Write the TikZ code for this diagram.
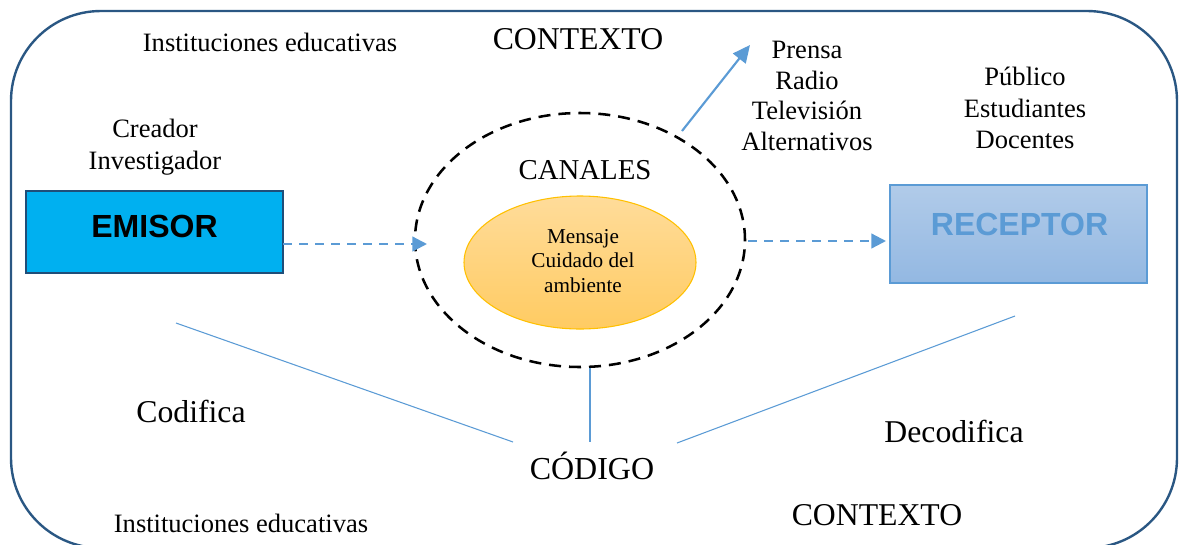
\documentclass[tikz,border=0pt]{standalone}
\usepackage{fontspec}
\setmainfont{Liberation Serif}
\newfontfamily\arialfont{Liberation Sans}
\usetikzlibrary{arrows.meta,shapes.geometric}
\definecolor{frameblue}{HTML}{2A5783}
\definecolor{lineblue}{HTML}{5B9BD5}
\definecolor{emisorfill}{HTML}{00B0F0}
\definecolor{emisorborder}{HTML}{1F4E79}
\definecolor{rectop}{HTML}{B1CBE9}
\definecolor{recbot}{HTML}{93B8E2}
\definecolor{msgtop}{HTML}{FFDC9A}
\definecolor{msgbot}{HTML}{FFCB62}
\definecolor{msgborder}{HTML}{FFC000}
\tikzset{
  txt/.style={inner sep=0pt, align=center, font=\fontsize{19.9}{23.5}\selectfont},
  bigtxt/.style={inner sep=0pt, align=center, font=\fontsize{23.8}{28}\selectfont},
  flowarrow/.style={draw=lineblue, line width=1.7pt, dash pattern=on 7pt off 5pt, -{Triangle[length=11pt,width=11pt]}},
  thinline/.style={draw=lineblue, line width=0.8pt},
}
\begin{document}
\begin{tikzpicture}[x=0.75pt,y=-0.75pt]
\useasboundingbox (0,0) rectangle (1183,544);
% outer frame
\draw[frameblue, line width=1.8pt, rounded corners=67.5pt] (11,11) rectangle (1177,548);

% texts
\node[txt] (inst1) at (270,42) {Instituciones educativas};
\node[bigtxt] (ctx1) at (578,39) {CONTEXTO};
\node[txt, font=\fontsize{19.9}{22.9}\selectfont] (medios) at (807,96) {Prensa\\Radio\\Televisión\\Alternativos};
\node[txt, font=\fontsize{19.9}{23.6}\selectfont] (publico) at (1025,108) {Público\\Estudiantes\\Docentes};
\node[txt, font=\fontsize{19.9}{24}\selectfont] (creador) at (155,147) {Creador\\Investigador};

% emisor
\node[draw=emisorborder, line width=1.8pt, fill=emisorfill, minimum width=192.75pt, minimum height=61.5pt, inner sep=0pt] (emisor) at (154.5,232) {};
\node[inner sep=0pt, font=\arialfont\bfseries\fontsize{24}{28}\selectfont] (emisorlbl) at (154.5,226) {EMISOR};

% receptor
\node[draw=lineblue, line width=0.8pt, top color=rectop, bottom color=recbot, minimum width=192.75pt, minimum height=73.5pt, inner sep=0pt] (receptor) at (1018.5,234) {};
\node[inner sep=0pt, text=lineblue, font=\arialfont\bfseries\fontsize{24}{28}\selectfont] (receptorlbl) at (1019.5,224) {RECEPTOR};

% canales ellipse
\node[ellipse, draw=black, line width=1.9pt, dash pattern=on 9pt off 6pt, minimum width=247.5pt, minimum height=190.5pt, inner sep=0pt] (canales) at (580,240) {};
\node[txt, font=\fontsize{21.6}{25}\selectfont] (canaleslbl) at (585,170) {CANALES};

% mensaje ellipse
\node[ellipse, draw=msgborder, line width=0.8pt, top color=msgtop, bottom color=msgbot, minimum width=174pt, minimum height=99.75pt, inner sep=0pt] (mensaje) at (580,262.5) {};
\node[txt, font=\fontsize{15.9}{18.4}\selectfont] (mensajelbl) at (583,261) {Mensaje\\Cuidado del\\ambiente};

% arrows
\coordinate (e1) at (283,244);
\coordinate (e2) at (427,244);
\draw[flowarrow] (e1) -- (e2);
\coordinate (r1) at (748,241);
\coordinate (r2) at (886,241);
\draw[flowarrow] (r1) -- (r2);
\coordinate (p1) at (682,131);
\coordinate (p2) at (750,45);
\draw[draw=lineblue, line width=1.6pt, -{Triangle[length=13pt,width=12pt]}] (p1) -- (p2);

% codigo
\node[bigtxt, font=\fontsize{24}{28}\selectfont] (codigo) at (592,466) {CÓDIGO};
\node[bigtxt] (codifica) at (191,411) {Codifica};
\node[bigtxt] (decodifica) at (954,431) {Decodifica};
\coordinate (l1) at (176,323);
\coordinate (l2) at (513,442);
\coordinate (m1) at (590,368);
\coordinate (m2) at (590,442);
\coordinate (d1) at (1015,316);
\coordinate (d2) at (677,443);
\draw[thinline] (l1) -- (l2);
\draw[thinline] (m1) -- (m2);
\draw[thinline] (d1) -- (d2);

\node[txt] (inst2) at (241,523) {Instituciones educativas};
\node[bigtxt] (ctx2) at (877,515) {CONTEXTO};
\end{tikzpicture}
\end{document}
